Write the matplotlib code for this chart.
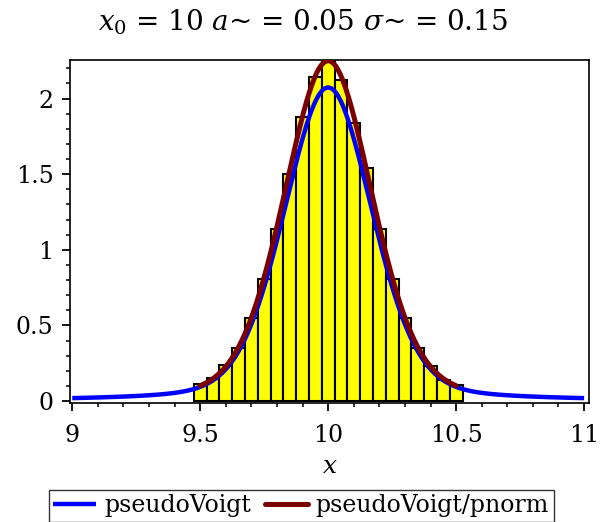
import numpy as np
import matplotlib
matplotlib.use("Agg")
import matplotlib.pyplot as plt
from matplotlib.ticker import MultipleLocator

plt.rcParams["font.family"] = ["DejaVu Serif"]
plt.rcParams["mathtext.fontset"] = "dejavuserif"

# Profile parameters (shown in the title)
x0 = 10.0
a_lor = 0.05      # Lorentzian half width
sigma = 0.15      # Gaussian standard deviation

# Histogram: bin edges and bar heights
bin_left = 9.475
bin_width = 0.05
bar_heights = [0.11, 0.15, 0.24, 0.35, 0.55, 0.81, 1.14, 1.50, 1.88, 2.145, 2.25,
               2.12, 1.84, 1.54, 1.14, 0.81, 0.55, 0.35, 0.23, 0.14, 0.105]

# Plot ranges for the two curves
full_range = (9.0, 11.0)
trunc_range = (9.5, 10.5)

x_ticks = [9, 9.5, 10, 10.5, 11]
x_ticklabels = ["9", "9.5", "10", "10.5", "11"]
y_ticks = [0, 0.5, 1, 1.5, 2]
y_ticklabels = ["0", "0.5", "1", "1.5", "2"]


def pseudo_voigt(x, x0, a, s):
    """Thompson-Cox-Hastings pseudo-Voigt approximation."""
    fL = 2.0 * a
    fG = 2.0 * np.sqrt(2.0 * np.log(2.0)) * s
    f = (fG**5 + 2.69269 * fG**4 * fL + 2.42843 * fG**3 * fL**2
         + 4.47163 * fG**2 * fL**3 + 0.07842 * fG * fL**4 + fL**5) ** 0.2
    r = fL / f
    eta = 1.36603 * r - 0.47719 * r**2 + 0.11116 * r**3
    g = f / 2.0
    lor = (g / np.pi) / ((x - x0) ** 2 + g**2)
    sg = f / (2.0 * np.sqrt(2.0 * np.log(2.0)))
    gau = np.exp(-0.5 * ((x - x0) / sg) ** 2) / (sg * np.sqrt(2.0 * np.pi))
    return eta * lor + (1.0 - eta) * gau


fig = plt.figure(figsize=(6.0, 5.22), dpi=100)
ax = fig.add_axes([0.117, 0.228, 0.865, 0.657])

# histogram bars
n = len(bar_heights)
lefts = bin_left + bin_width * np.arange(n)
ax.bar(lefts, bar_heights, width=bin_width, align="edge",
       color="#ffff00", edgecolor="black", linewidth=1.5, zorder=2)

# full pseudo-Voigt profile
xs = np.linspace(full_range[0], full_range[1], 800)
ax.plot(xs, pseudo_voigt(xs, x0, a_lor, sigma), color="#0000ff", lw=3.2,
        solid_capstyle="butt", zorder=3, label="pseudoVoigt")

# profile normalised over the truncated interval
xt = np.linspace(trunc_range[0], trunc_range[1], 800)
yt = pseudo_voigt(xt, x0, a_lor, sigma)
pnorm = np.trapezoid(yt, xt)
ax.plot(xt, yt / pnorm, color="#7a0000", lw=3.6, solid_capstyle="round",
        zorder=4, label="pseudoVoigt/pnorm")

ax.set_xlim(8.992, 11.02)
ax.set_ylim(-0.013, 2.255)

ax.set_xticks(x_ticks)
ax.set_xticklabels(x_ticklabels)
ax.set_yticks(y_ticks)
ax.set_yticklabels(y_ticklabels)
ax.xaxis.set_minor_locator(MultipleLocator(0.1))
ax.yaxis.set_minor_locator(MultipleLocator(0.1))
ax.tick_params(which="major", direction="out", length=6, width=1.3,
               labelsize=17)
ax.tick_params(axis="x", which="major", pad=9)
ax.tick_params(axis="y", which="major", pad=6)
ax.tick_params(which="minor", direction="out", length=3, width=1.1)
for sp in ax.spines.values():
    sp.set_linewidth(1.2)

ax.set_xlabel("$x$", fontsize=18, labelpad=6)
fig.text(0.505, 0.958, r"$x_0$ = 10 $a$~ = 0.05 $\sigma$~ = 0.15",
         fontsize=20, ha="center", va="center")

leg = fig.legend(loc="lower center", bbox_to_anchor=(0.502, 0.0), ncol=2,
                 fontsize=17, frameon=True, fancybox=False, handlelength=1.8,
                 handletextpad=0.35, columnspacing=0.6, borderpad=0.2,
                 borderaxespad=0.0)
leg.get_frame().set_edgecolor("black")
leg.get_frame().set_linewidth(1.0)

fig.savefig("out.png", dpi=100)
